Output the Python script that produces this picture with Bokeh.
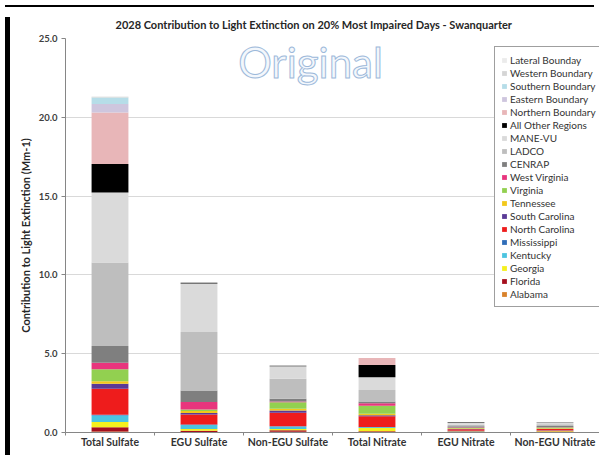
import numpy as np
from bokeh.plotting import figure
from bokeh.layouts import row, column
from bokeh.models import (FixedTicker, PrintfTickFormatter, Legend, LegendItem, Label,
                          ColumnDataSource, Range1d, Div)
from bokeh.embed import file_html
from bokeh.resources import INLINE

title_text = "2028 Contribution to Light Extinction on 20% Most Impaired Days - Swanquarter"
y_title = "Contribution to Light Extinction (Mm-1)"
categories = ["Total Sulfate", "EGU Sulfate", "Non-EGU Sulfate", "Total Nitrate",
              "EGU Nitrate", "Non-EGU Nitrate"]
y_ticks = [0, 5, 10, 15, 20, 25]

# stack order, bottom -> top
regions = ["Alabama", "Florida", "Georgia", "Kentucky", "Mississippi", "North Carolina",
           "South Carolina", "Tennessee", "Virginia", "West Virginia", "CENRAP", "LADCO",
           "MANE-VU", "All Other Regions", "Northern Boundary", "Eastern Boundary",
           "Southern Boundary", "Western Boundary", "Lateral Bounday"]

alabama = [0.06, 0.03, 0.05, 0.03, 0.02, 0.03]
florida = [0.28, 0.08, 0.10, 0.05, 0.04, 0.04]
georgia = [0.32, 0.12, 0.08, 0.20, 0.02, 0.02]
kentucky = [0.42, 0.25, 0.15, 0.05, 0.02, 0.02]
mississippi = [0.05, 0.03, 0.02, 0.02, 0.01, 0.01]
north_carolina = [1.65, 0.63, 0.85, 0.68, 0.10, 0.10]
south_carolina = [0.32, 0.10, 0.15, 0.06, 0.01, 0.01]
tennessee = [0.15, 0.12, 0.10, 0.10, 0.03, 0.03]
virginia = [0.76, 0.10, 0.42, 0.50, 0.04, 0.05]
west_virginia = [0.42, 0.47, 0.05, 0.17, 0.02, 0.02]
cenrap = [1.06, 0.74, 0.17, 0.10, 0.08, 0.08]
ladco = [5.30, 3.70, 1.27, 0.74, 0.10, 0.12]
mane_vu = [4.44, 3.09, 0.80, 0.80, 0.15, 0.12]
all_other = [1.80, 0.04, 0.03, 0.78, 0.02, 0.02]
northern_bnd = [3.28, 0.00, 0.00, 0.45, 0.00, 0.00]
eastern_bnd = [0.53, 0.00, 0.00, 0.00, 0.00, 0.00]
southern_bnd = [0.42, 0.00, 0.00, 0.00, 0.00, 0.00]
western_bnd = [0.04, 0.00, 0.00, 0.00, 0.00, 0.00]
lateral_bnd = [0.02, 0.00, 0.00, 0.00, 0.00, 0.00]

series = [alabama, florida, georgia, kentucky, mississippi, north_carolina, south_carolina,
          tennessee, virginia, west_virginia, cenrap, ladco, mane_vu, all_other,
          northern_bnd, eastern_bnd, southern_bnd, western_bnd, lateral_bnd]

colors = ["#D9822B", "#A50F1E", "#F5F01E", "#4CC4E0", "#2F6DB8", "#EE1C1C",
          "#5A3A96", "#F2C81A", "#92D050", "#E8357D", "#7F7F7F", "#BEBEBE",
          "#DADADA", "#000000", "#E8B6B8", "#CEC6DE", "#B6DDE8", "#D5D5D5", "#EBEBEB"]

xpos = np.arange(len(categories)) + 0.5
data = {"x": xpos}
for name, vals in zip(regions, series):
    data[name] = vals
source = ColumnDataSource(data)

p = figure(width=584, height=438, x_range=Range1d(0, len(categories)), y_range=Range1d(0, 25),
           output_backend="svg", toolbar_location=None,
           min_border_left=0, min_border_right=0, min_border_top=0, min_border_bottom=0)
p.outline_line_color = None
p.background_fill_color = "white"
p.border_fill_color = "white"

renderers = p.vbar_stack(regions, x="x", width=0.414, fill_color=colors, line_color=None,
                         source=source)

p.title.text = title_text
p.title.align = "left"
p.title.vertical_align = "top"
p.title.offset = 50
p.title.standoff = 11
p.title.text_font = "Lato"
p.title.text_font_size = "11px"
p.title.text_font_style = "bold"
p.title.text_color = "#262626"

# x axis
xax = p.xaxis[0]
xax.ticker = FixedTicker(ticks=list(xpos), minor_ticks=list(range(len(categories) + 1)))
xax.major_label_overrides = {float(xv): c for xv, c in zip(xpos, categories)}
xax.major_tick_line_color = None
xax.major_tick_out = 0
xax.major_tick_in = 0
xax.minor_tick_out = 3
xax.minor_tick_in = 0
xax.minor_tick_line_color = "#868686"
xax.axis_line_color = "#868686"
xax.major_label_text_font = "Lato"
xax.major_label_text_font_size = "10.5px"
xax.major_label_text_font_style = "bold"
xax.major_label_text_color = "#333333"
xax.major_label_standoff = 0

# y axis
yax = p.yaxis[0]
yax.ticker = FixedTicker(ticks=y_ticks, minor_ticks=[])
yax.formatter = PrintfTickFormatter(format="%.1f")
yax.major_tick_out = 4
yax.major_tick_in = 0
yax.major_tick_line_color = "#868686"
yax.axis_line_color = "#868686"
yax.major_label_text_font = "Lato"
yax.major_label_text_font_size = "9.5px"
yax.major_label_text_font_style = "bold"
yax.major_label_text_color = "#404040"
yax.major_label_standoff = 4
yax.axis_label = y_title
yax.axis_label_text_font = "Lato"
yax.axis_label_text_font_size = "11px"
yax.axis_label_text_font_style = "bold"
yax.axis_label_text_color = "#262626"
yax.axis_label_standoff = 4

p.xgrid.visible = False
p.ygrid.ticker = FixedTicker(ticks=y_ticks)
p.ygrid.grid_line_color = "#D9D9D9"

items = [LegendItem(label=name, renderers=[r]) for name, r in zip(regions, renderers)]
items.reverse()
legend = Legend(items=items, location=(429, 125))
legend.border_line_color = "#404040"
legend.border_line_width = 1
legend.background_fill_color = "white"
legend.background_fill_alpha = 1
legend.padding = 6
legend.margin = 0
legend.spacing = 0
legend.label_height = 13
legend.glyph_height = 6
legend.glyph_width = 6
legend.label_standoff = 3
legend.label_text_font = "Lato"
legend.label_text_font_size = "10px"
legend.label_text_color = "#333333"
p.add_layout(legend)

watermark = Label(x=245, y=371, x_units="screen", y_units="screen", text="Original",
                  text_font="Lato", text_font_size="42px", text_color="#F3F7FC",
                  text_outline_color="#9DB9DA", text_align="center", text_baseline="middle")
p.add_layout(watermark)

page_no = Label(x=530, y=-10, x_units="screen", y_units="screen", text="38",
                text_font="Lato", text_font_size="9px", text_color="#404040",
                text_align="right", text_baseline="middle")
p.add_layout(page_no)

top_bar = Div(text="", width=589, height=2, styles={"background-color": "black"})
left_bar = Div(text="", width=5, height=438, styles={"background-color": "black"})
layout = column(top_bar, row(left_bar, p, spacing=0), spacing=0)

open("out.html", "w").write(file_html(layout, INLINE))
